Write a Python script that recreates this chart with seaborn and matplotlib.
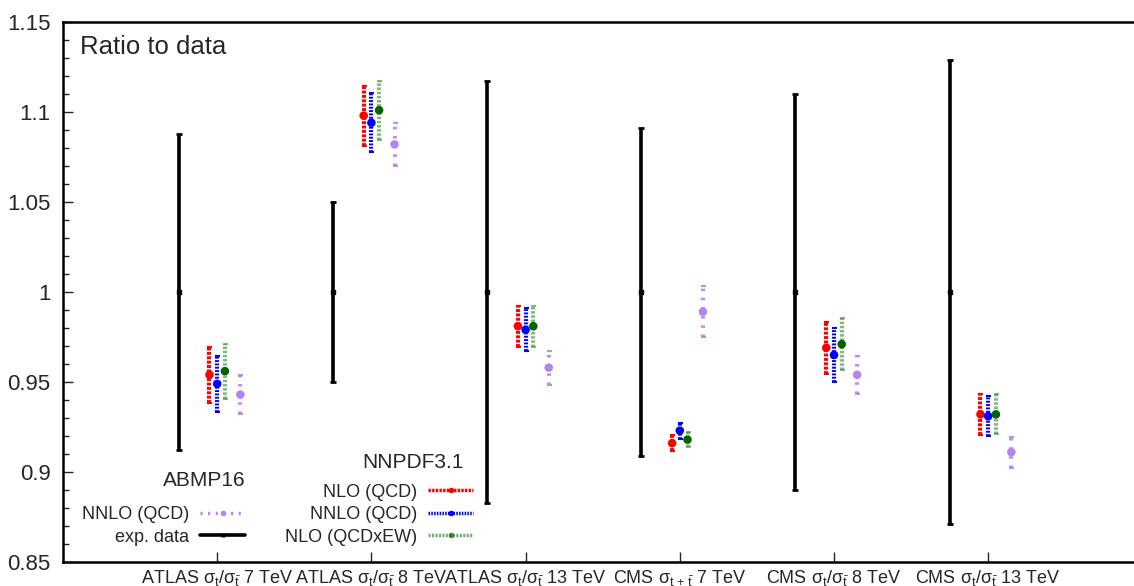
import numpy as np
import pandas as pd
import matplotlib
matplotlib.use("Agg")
import matplotlib.pyplot as plt
import seaborn as sns
from matplotlib.lines import Line2D
from matplotlib.ticker import MultipleLocator

# Measurements and predictions, normalised to data
categories = [
    r"ATLAS σ$_{\mathrm{t}}$/σ$_{\bar{\mathrm{t}}}$ 7 TeV",
    r"ATLAS σ$_{\mathrm{t}}$/σ$_{\bar{\mathrm{t}}}$ 8 TeV",
    r"ATLAS σ$_{\mathrm{t}}$/σ$_{\bar{\mathrm{t}}}$ 13 TeV",
    r"CMS σ$_{\mathrm{t}\,+\,\bar{\mathrm{t}}}$ 7 TeV",
    r"CMS σ$_{\mathrm{t}}$/σ$_{\bar{\mathrm{t}}}$ 8 TeV",
    r"CMS σ$_{\mathrm{t}}$/σ$_{\bar{\mathrm{t}}}$ 13 TeV",
]
exp_data = [1.0, 1.0, 1.0, 1.0, 1.0, 1.0]
exp_err = [0.088, 0.050, 0.117, 0.091, 0.110, 0.129]

nnpdf_nlo_qcd = [0.954, 1.098, 0.981, 0.916, 0.969, 0.932]
nnpdf_nlo_qcd_err = [0.0155, 0.0167, 0.0115, 0.0045, 0.0146, 0.0114]
nnpdf_nnlo_qcd = [0.949, 1.094, 0.979, 0.923, 0.965, 0.931]
nnpdf_nnlo_qcd_err = [0.0157, 0.0164, 0.0120, 0.0045, 0.0150, 0.0112]
nnpdf_nlo_qcdew = [0.956, 1.101, 0.981, 0.918, 0.971, 0.932]
nnpdf_nlo_qcdew_err = [0.0153, 0.0164, 0.0115, 0.0040, 0.0145, 0.0111]
abmp_nnlo_qcd = [0.943, 1.082, 0.958, 0.989, 0.954, 0.911]
abmp_nnlo_qcd_err = [0.0110, 0.0120, 0.0095, 0.0142, 0.0105, 0.0087]

sns.set_theme(style="white")
plt.rcParams["font.family"] = ["Liberation Sans", "DejaVu Sans"]
plt.rcParams["mathtext.fontset"] = "custom"
plt.rcParams["mathtext.rm"] = "Liberation Sans"
plt.rcParams["mathtext.it"] = "Liberation Sans:italic"
plt.rcParams["mathtext.bf"] = "Liberation Sans:bold"

fig = plt.figure(figsize=(11.34, 5.86), dpi=100)
ax = fig.add_axes([63 / 1134, 24 / 586, 1079.4 / 1134, 540 / 586])

xpos = np.arange(1, len(categories) + 1)

# series: values, errors, colour, x offset, line style, alpha
series = [
    ("NLO (QCD)", nnpdf_nlo_qcd, nnpdf_nlo_qcd_err, "#ff0000", -0.05, (0, (0.7, 0.35)), 1.0),
    ("NNLO (QCD)", nnpdf_nnlo_qcd, nnpdf_nnlo_qcd_err, "#0000ff", 0.0, (0, (0.45, 0.35)), 1.0),
    ("NLO (QCDxEW)", nnpdf_nlo_qcdew, nnpdf_nlo_qcdew_err, "#2e8b2e", 0.05, (0, (0.6, 0.4)), 0.6),
    ("ABMP16 NNLO (QCD)", abmp_nnlo_qcd, abmp_nnlo_qcd_err, "#b383f2", 0.15, (0, (0.6, 1.6)), 0.9),
]
centre_colours = {"NLO (QCD)": "#ff0000", "NNLO (QCD)": "#0000ff",
                  "NLO (QCDxEW)": "#006400", "ABMP16 NNLO (QCD)": "#b383f2"}

# experimental data: solid black bars
xd = xpos - 0.25
ax.errorbar(xd, exp_data, yerr=exp_err, fmt="s", ms=3.5, color="black",
            elinewidth=2.6, capsize=2.2, capthick=2.0, zorder=3)

rows = []
for name, vals, errs, col, off, ls, alpha in series:
    x = xpos + off
    _, _, bars = ax.errorbar(x, vals, yerr=errs, fmt="none", ecolor=col,
                             elinewidth=3.0, capsize=1.8, capthick=1.5,
                             alpha=alpha, zorder=2)
    bars[0].set_linestyle(ls)
    for xi, vi in zip(x, vals):
        rows.append({"x": xi, "y": vi, "series": name})

df = pd.DataFrame(rows)
sns.scatterplot(data=df, x="x", y="y", hue="series", palette=centre_colours,
                s=38, edgecolor="none", legend=False, ax=ax, zorder=4)

ax.set_xlim(0, 7)
ax.set_ylim(0.85, 1.15)
ax.set_xticks(xpos)
ax.set_xticklabels(categories, fontsize=13)
ax.yaxis.set_minor_locator(MultipleLocator(0.01))
ax.set_yticks(np.arange(0.85, 1.1501, 0.05))
ax.set_yticklabels(["0.85", "0.9", "0.95", "1", "1.05", "1.1", "1.15"], fontsize=16)
ax.tick_params(axis="y", which="major", direction="in", length=7, width=1, pad=9, left=True)
ax.tick_params(axis="y", which="minor", direction="in", length=4, width=1, left=True)
ax.tick_params(axis="x", which="major", direction="in", length=7, width=1, pad=4, bottom=True)
ax.set_xlabel("")
ax.set_ylabel("")
for sp in ax.spines.values():
    sp.set_linewidth(1.8)
    sp.set_color("black")

ax.text(0.016, 0.953, "Ratio to data", transform=ax.transAxes, fontsize=18.5,
        ha="left", va="center")

# legends in the lower left corner
def handle(col, ls, lw, alpha=1.0, ccol=None):
    return Line2D([0], [0], color=col, lw=lw, ls=ls, alpha=alpha,
                  marker="o", ms=4, markerfacecolor=ccol or col,
                  markeredgecolor="none")

abmp_handles = [handle("#b383f2", (0, (0.6, 1.6)), 2.5),
                handle("black", "-", 2.6, ccol="black")]
abmp_handles[1].set_marker("s")
abmp_handles[1].set_markersize(3)
leg_kw = dict(loc="lower right", frameon=False, markerfirst=False, fontsize=13,
              handlelength=2.5, handletextpad=0.6, labelspacing=0.3,
              borderpad=0.1, borderaxespad=0.0)
leg1 = ax.legend(abmp_handles, ["NNLO (QCD)", "exp. data"],
                 bbox_to_anchor=((247 - 63) / 1079.4, 0.027), **leg_kw)
ax.add_artist(leg1)
ax.text((246 - 63) / 1079.4, (562 - 481) / 540, "ABMP16", transform=ax.transAxes,
        fontsize=15, ha="right", va="center")

nnpdf_handles = [handle("#ff0000", (0, (0.7, 0.35)), 2.5),
                 handle("#0000ff", (0, (0.45, 0.35)), 2.5),
                 handle("#2e8b2e", (0, (0.6, 0.4)), 2.5, alpha=0.7, ccol="#006400")]
leg2 = ax.legend(nnpdf_handles, ["NLO (QCD)", "NNLO (QCD)", "NLO (QCDxEW)"],
                 bbox_to_anchor=((475 - 63) / 1079.4, 0.027), **leg_kw)
ax.text((464 - 63) / 1079.4, (562 - 462) / 540, "NNPDF3.1", transform=ax.transAxes,
        fontsize=15, ha="right", va="center")

fig.savefig("out.png", dpi=100)
